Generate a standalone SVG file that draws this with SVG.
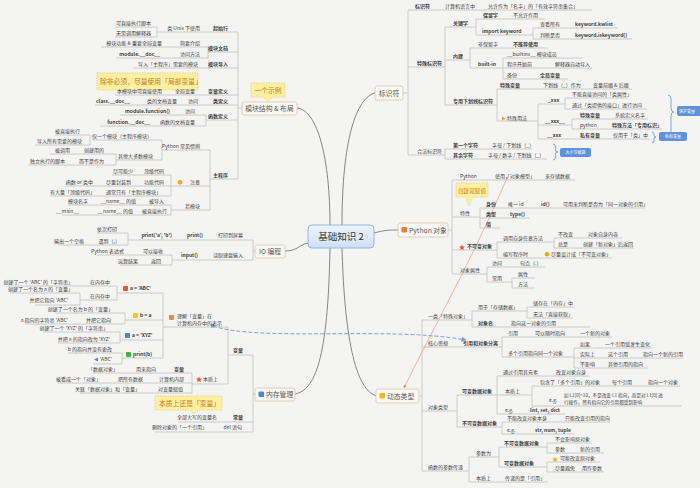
<svg xmlns="http://www.w3.org/2000/svg" width="700" height="488" viewBox="0 0 700 488">
<defs>
<style>
text{font-family:"Noto Sans CJK SC","Noto Sans",sans-serif;font-size:5px;fill:#3f3f3f}
.b{font-weight:bold}
.e{text-anchor:end}
.m{text-anchor:middle}
.ln{stroke:#c2c2c2;stroke-width:0.8;fill:none}
.main{stroke:#858585;stroke-width:1;fill:none}
.nd{fill:#fbf8f1;stroke:#d8c8ae;stroke-width:0.8}
.nt{font-size:6.8px;fill:#5a5a5a}
.cl{fill:#fff0a0;stroke:#e2c766;stroke-width:0.6;stroke-dasharray:1.5 1}
.ct{font-size:6.8px;fill:#c87a1c}
.tg{fill:#5d92dc}
.tt{fill:#ffffff;font-size:4px}
.br{stroke:#6a9fe2;stroke-width:0.9;fill:none}
</style>
<linearGradient id="gc" x1="0" y1="0" x2="0" y2="1"><stop offset="0" stop-color="#eef5fd"/><stop offset="1" stop-color="#cddff5"/></linearGradient>
<marker id="ao" viewBox="0 0 10 10" refX="9" refY="5" markerWidth="5" markerHeight="5" orient="auto"><path d="M0 0L10 5L0 10z" fill="#ec8a68"/></marker>
<marker id="ab" viewBox="0 0 10 10" refX="9" refY="5" markerWidth="5" markerHeight="5" orient="auto"><path d="M0 0L10 5L0 10z" fill="#6f9ad6"/></marker>
</defs>
<rect width="700" height="488" fill="#f4f4f2"/>

<g id="connectors">
<path class="main" d="M297 108C318 110 330 160 330 225M375 93C356 98 342 140 342 225M285 251C298 251 300 244 308 243M374 233C385 230 390 230 398 230M295 394C315 390 328 360 330 248M342 248C344 320 352 390 377 396"/>
<path class="ln" d="M403 93H408M408 10V155M408 10H592M408 67H445M408 155H445
M445 27V105M445 27H476M476 19V35M476 19H545M476 35H533M533 28V39M533 28H618M533 39H632
M445 60H470M470 48V68M470 48H548M470 68H503M503 58V79M503 58H582M503 68H592M503 79H568
M445 105H497M497 89V121M497 89H632M497 121H538M538 104V139M538 104H565M565 98V109M565 98H628M565 109H647
M538 125H572M572 119V129M572 119H648M572 129H662M538 139H650
M445 149V159M445 149H532M445 159H547"/>
<path class="ln" d="M448 230H452M452 180V274M452 180H575M452 217H480M480 208V228M480 208H645M480 218H530M480 228H500
M452 250H497M497 242V258M497 242H554M554 238V248M554 238H622M554 248H634M497 258H612
M452 274H487M487 267V282M487 267H545M487 282H512M512 278V288M512 278H535M512 288H535"/>
<path class="ln" d="M419 396H422M422 320V471M422 320H472M472 311V327M472 311H527M527 307V318M527 307H575M527 318H573M472 327H590
M422 347H502M502 337V357M502 337H612M502 357H574M574 348V368M574 348H652M574 358H683M574 368H648
M422 411H457M457 395V427M457 395H497M497 376V414M497 376H590M497 395H532M532 386V406M532 386H680M532 406H682M497 414H565
M457 427H502M502 422V434M502 422H610M502 434H575
M422 471H469M469 457V482M469 457H499M499 447V467M499 447H547M547 443V453M547 443H592M547 453H604M499 467H547M547 462V472M547 462H600M547 472H604M469 482H548"/>
<path class="ln" d="M242 108H238M238 32V179M157 32H238M157 27V37M115 27H157M115 37H157
M208 52H238M208 47V58M101 47H208M116 58H208M133 68H238M115 95H238M95 105H238
M206 120H238M206 115V126M120 115H206M100 126H206
M210 179H238M210 150V210M162 150H210M162 140V160M92 140H162M90 135V145M55 135H90M35 145H90M116 160H162M116 154V165M50 154H116M28 165H116
M171 186H210M171 175V196M112 175H171M65 186H171M50 196H171M171 210H210M171 205V215M68 205H171M62 215H171"/>
<path class="ln" d="M255 251H253M253 240V260M128 240H253M128 233V245M97 233H128M58 245H128M172 260H253M172 255V265M97 255H172M120 265H172"/>
<path class="ln" d="M255 394H253M253 355V432M228 355H253M228 327V384M163 327H228M163 293V358
M117 293H163M117 286V300M8 286H117M80 300H117M80 293V305M10 293H80M35 305H80
M125 320H163M125 313V324M55 313H125M25 324H125M120 340H163M120 332V343M43 332H120M58 343H120
M122 358H163M122 353V364M68 353H122M93 364H122
M192 384H228M192 373V393M93 373H192M58 383H192M80 393H192M178 422H253M155 432H253"/>
<path d="M507 178C472 260 432 330 404 388" stroke="#ee9a7c" stroke-width="0.7" fill="none" marker-end="url(#ao)"/>
<circle cx="507" cy="178" r="1.2" fill="#ee9a7c"/>
<path d="M213 326C260 342 390 326 466 340" stroke="#7ba3d8" stroke-width="1" stroke-dasharray="4 2" fill="none" marker-end="url(#ab)"/>
<rect x="211" y="324" width="3.5" height="3.5" fill="#7ba3d8"/>
<path class="br" d="M668 95q3 0 3 4V108q0 4 3 4q-3 0-3 4V136q0 4-3 4M652 132q2 0 2 2V135q0 2 2 2q-2 0-2 2V141q0 2-2 2M553 144q2.5 0 2.5 3V150q0 2 2.5 2q-2.5 0-2.5 2V157q0 3-2.5 3"/>
</g>

<g id="center"><rect x="308" y="225" width="66" height="23" rx="4" fill="url(#gc)" stroke="#8db0e0" stroke-width="0.9"/><text x="341" y="240" class="m" style="font-size:9.5px;fill:#333">基础知识 2</text></g>

<g id="n-biaoshifu">
<rect class="nd" x="375" y="86" width="28" height="14" rx="2"/><text class="nt m" x="389" y="95.5">标识符</text>
<text class="b" x="415" y="8">标识符</text><text x="445" y="8">计算机语言中</text><text x="488" y="8">允许作为「名字」的「有效字符串集合」</text>
<text class="b" x="417" y="65">特殊标识符</text>
<text class="b" x="453" y="25">关键字</text>
<text class="b" x="483" y="17">保留字</text><text x="513" y="17">不允许作用</text>
<text class="b" x="482" y="33">import keyword</text>
<text x="540" y="26">查看所有</text><text class="b" x="575" y="26">keyword.kwlist</text>
<text x="540" y="37">判断是否</text><text class="b" x="575" y="37">keyword.iskeyword()</text>
<text class="b" x="453" y="58">内建</text>
<text x="478" y="46">非保留字</text><text class="b" x="513" y="46">不推荐使用</text>
<text class="b" x="478" y="66">built-in</text>
<text x="507" y="56">__builtins__ 模块成员</text>
<text x="507" y="66">程序开始前</text><text x="555" y="66">解释器自动导入</text>
<text x="507" y="77">备份</text><text class="b" x="540" y="77">全局变量</text>
<text class="b" x="453" y="103">专用下划线标识符</text>
<text class="b" x="500" y="87">特殊变量</text><text x="543" y="87">下划线（_）作为</text><text x="593" y="87">变量前缀 &amp; 后缀</text>
<path d="M502 116.5L505.5 118.5L502 120.5z" fill="#f0a020"/><text x="507" y="120">特殊用法</text>
<text class="b" x="548" y="102">_xxx</text>
<text x="572" y="96">不能直接访问的「类属性」</text>
<text x="572" y="107">通过「类提供的接口」进行访问</text>
<text class="b" x="545" y="123">__xxx__</text>
<text class="b" x="580" y="117">特殊变量</text><text x="615" y="117">系统定义名字</text>
<text x="580" y="127">python</text><text class="b" x="612" y="127">特殊方法「专用标识」</text>
<text class="b" x="547" y="137">__xxx</text><text class="b" x="580" y="137">私有变量</text><text x="613" y="137">仅用于「类」中</text>
<text x="417" y="153">合法标识符</text>
<text class="b" x="453" y="147">第一个字符</text><text x="492" y="147">字母 / 下划线（_）</text>
<text class="b" x="453" y="157">其余字符</text><text x="488" y="157">字母 / 数字 / 下划线（_）</text>
<rect class="tg" x="677" y="106" width="26" height="10" rx="2"/><text class="tt" x="679" y="112.5">保护变量</text>
<rect class="tg" x="659" y="132" width="28" height="9" rx="2"/><text class="tt m" x="673" y="138">私有变量</text>
<rect class="tg" x="560" y="148" width="31" height="9" rx="2"/><text class="tt m" x="575.5" y="154">大小写敏感</text>
</g>

<g id="n-pyobj">
<rect class="nd" x="398" y="223" width="50" height="14" rx="2"/><rect x="401.5" y="227" width="5.5" height="5.5" rx="1" fill="#ef7a45"/><text class="nt" x="409" y="232.5">Python 对象</text>
<text x="460" y="178">Python</text><text x="495" y="178">使用「对象模型」</text><text x="545" y="178">来存储数据</text>
<path class="cl" d="M456 183H488V197H473L469 206L466 197H456Z"/><text class="ct" x="458" y="192.5" style="font-size:5.6px">创建就赋值</text>
<text x="460" y="215">特性</text>
<text class="b" x="486" y="206">身份</text><text x="508" y="206">唯一 id</text><text class="b" x="541" y="206">id()</text><text x="563" y="206">可用来判断是否为「同一对象的引用」</text>
<text class="b" x="486" y="216">类型</text><text class="b" x="510" y="216">type()</text>
<text class="b" x="486" y="226">值</text>
<path d="M462 244.5l0.9 1.9 2 .2-1.5 1.4.5 2-1.9-1-1.9 1 .5-2-1.5-1.4 2-.2z" fill="#e8553e"/><text class="b" x="467" y="248">不可变对象</text>
<text x="503" y="240">调用自身任意方法</text>
<text x="558" y="236">不改变</text><text x="588" y="236">对象自身内容</text>
<text x="558" y="246">总是</text><text x="583" y="246">创建「新对象」后返回</text>
<text x="503" y="256">编写程序时</text><circle cx="547" cy="254.3" r="2.3" fill="#f4a51c"/><text x="551" y="256">尽量设计成「不可变对象」</text>
<text x="460" y="272">对象属性</text>
<text x="492" y="265">访问</text><text x="520" y="265">句点（.）</text>
<text x="492" y="280">常用</text><text x="518" y="276">属性</text><text x="518" y="286">方法</text>
</g>

<g id="n-dynamic">
<rect class="nd" x="376" y="389" width="43" height="14" rx="2"/><rect x="379.5" y="393" width="5.5" height="5.5" rx="1" fill="#f2b61e"/><text class="nt" x="387" y="398.5">动态类型</text>
<text x="428" y="318">一类「特殊对象」</text>
<text x="478" y="309">用于「存储数据」</text>
<text x="533" y="305">储存在「内存」中</text><text x="533" y="316">无法「直接获取」</text>
<text class="b" x="478" y="325">对象名</text><text x="511" y="325">指向这一对象的引用</text>
<text x="428" y="345">核心思想</text><text class="b" x="463" y="345">引用和对象分离</text>
<text x="508" y="335">引用</text><text x="535" y="335">可以随时指向</text><text x="580" y="335">一个新的对象</text>
<text x="508" y="355">多个引用指向同一个对象</text>
<text x="580" y="346">如果</text><text x="605" y="346">一个引用值发生变化</text>
<text x="580" y="356">实际上</text><text x="608" y="356">这个引用</text><text x="643" y="356">指向一个新的引用</text>
<text x="580" y="366">不影响</text><text x="608" y="366">其他引用的指向</text>
<text x="428" y="409">对象类型</text>
<text class="b" x="462" y="393">可变数据对象</text>
<text x="503" y="374">通过引用其元素</text><text x="556" y="374">改变对象自身</text>
<text x="505" y="393">本质上</text>
<text x="540" y="384">包含了「多个引用」的对象</text><text x="612" y="384">每个引用</text><text x="648" y="384">指向一个对象</text>
<text x="549" y="402">e.g.</text><text x="564" y="397" style="font-size:4.6px">如 L1[0]=10，不是改变 L1 指向，而是对 L1[0] 进</text><text x="564" y="404" style="font-size:4.6px">行操作，所有指向它的引用都受到影响</text>
<text x="505" y="412">e.g.</text><text class="b" x="530" y="412">list, set, dict</text>
<text class="b" x="462" y="425">不可变数据对象</text>
<text x="507" y="420">不能改变对象本身</text><text x="565" y="420">只能改变引用的指向</text>
<text x="507" y="432">e.g.</text><text class="b" x="535" y="432">str, num, tuple</text>
<text x="428" y="469">函数的参数传递</text>
<text x="476" y="455">参数为</text>
<text class="b" x="504" y="445">不可变数据对象</text>
<text x="555" y="441">不会影响原对象</text>
<text x="555" y="451">参数</text><text x="580" y="451">新的引用</text>
<text class="b" x="504" y="465">可变数据对象</text>
<path d="M555 456.5l0.9 1.9 2 .2-1.5 1.4.5 2-1.9-1-1.9 1 .5-2-1.5-1.4 2-.2z" fill="#f2b61e"/><text x="560" y="460">可能改变原对象</text>
<text x="555" y="470">尽量避免</text><text x="582" y="470">用作参数</text>
<text x="476" y="480">本质上</text><text x="505" y="480">传递的是「引用」</text>
</g>

<g id="n-module">
<rect class="nd" x="242" y="102" width="55" height="13" rx="2"/><text class="nt m" x="269.5" y="110.8">模块结构 &amp; 布局</text>
<path class="cl" d="M251 83H285V97H273L268 101L263 97H251Z"/><text class="ct m" x="268" y="92.5">一个示例</text>
<text class="b e" x="228" y="30">起始行</text><text class="e" x="200" y="30">类 Unix 下使用</text>
<text class="e" x="151" y="25">可直接执行脚本</text><text class="e" x="151" y="35">无需调用解释器</text>
<text class="b e" x="228" y="50">模块文档</text>
<text class="e" x="200" y="45">简要介绍</text><text class="e" x="162" y="45">模块功能 &amp; 重要全局变量</text>
<text class="e" x="200" y="56">访问方法</text><text class="b e" x="160" y="56">module.__doc__</text>
<text class="b e" x="228" y="66">模块导入</text><text class="e" x="198" y="66">导入「主程序」需要的模块</text>
<rect class="cl" x="97" y="73" width="101" height="17"/><text class="ct" x="100" y="84">除非必须，尽量使用「局部变量」</text>
<text class="b e" x="228" y="93">变量定义</text><text class="e" x="195" y="93">全局变量</text><text class="e" x="162" y="93">本模块中可直接使用</text>
<text class="b e" x="228" y="103">类定义</text><text class="e" x="198" y="103">访问</text><text class="e" x="177" y="103">类的文档变量</text><text class="b e" x="130" y="103">class.__doc__</text>
<text class="b e" x="228" y="118">函数定义</text>
<text class="e" x="195" y="113">访问</text><text class="b e" x="170" y="113">module.function()</text>
<text class="e" x="195" y="124">函数的文档变量</text><text class="b e" x="150" y="124">function.__doc__</text>
<text class="b e" x="228" y="177">主程序</text>
<text class="e" x="200" y="148">Python 常见惯例</text>
<text class="e" x="152" y="138">仅一个模块（主程序模块）</text>
<text class="e" x="80" y="133">被直接执行</text><text class="e" x="82" y="143">导入所有需要的模块</text>
<text class="e" x="153" y="158">其他大多数模块</text>
<text class="e" x="104" y="152">创建用的</text><text class="e" x="70" y="152">被调用</text>
<text class="e" x="104" y="163">而不是作为</text><text class="e" x="65" y="163">独立执行的脚本</text>
<circle cx="180" cy="182.3" r="2.4" fill="#f4a51c"/><text class="e" x="200" y="184">注意</text>
<text class="e" x="164" y="173">顶级代码</text><text class="e" x="133" y="173">尽可能少</text>
<text class="e" x="164" y="184">功能代码</text><text class="e" x="131" y="184">尽量封装到</text><text class="e" x="93" y="184">函数 or 类中</text>
<text class="e" x="161" y="194">通常只有「主程序模块」</text><text class="e" x="95" y="194">有大量「顶级代码」</text>
<text class="e" x="200" y="208">若模块</text>
<text class="e" x="164" y="203">被导入</text><text class="e" x="136" y="203">__name__ 的值</text><text class="e" x="88" y="203">模块名字</text>
<text class="e" x="167" y="213">被直接执行</text><text class="e" x="133" y="213">__name__ 的值</text><text class="e" x="79" y="213">__main__</text>
</g>

<g id="n-io">
<rect class="nd" x="255" y="245" width="30" height="13" rx="2"/><text class="nt m" x="270" y="253.8">IO 编程</text>
<text class="e" x="243" y="237">打印到屏幕</text><text class="b e" x="203" y="237">print()</text><text class="b e" x="172" y="237">print('a', 'b')</text>
<text class="e" x="117" y="231">依次打印</text><text class="e" x="120" y="243">遇到（,）</text><text class="e" x="84" y="243">输出一个空格</text>
<text class="e" x="243" y="257">读取键盘输入</text><text class="b e" x="198" y="257">input()</text>
<text class="e" x="163" y="253">可以接收</text><text class="e" x="124" y="253">Python 表达式</text>
<text class="e" x="161" y="263">返回</text><text class="e" x="138" y="263">运算结果</text>
</g>

<g id="n-memory">
<rect class="nd" x="255" y="388" width="40" height="13" rx="2"/><rect x="258.5" y="391.5" width="5.5" height="5.5" rx="1" fill="#4a86d8"/><text class="nt" x="266" y="397">内存管理</text>
<text class="b e" x="243" y="352">变量</text>
<rect x="169" y="315" width="5" height="5" rx="1" fill="#f08a3c"/><text x="177" y="318">理解「变量」在</text><text x="177" y="325">计算机内存中的表示</text>
<rect x="123" y="286" width="5" height="5" rx="1" fill="#e8553e"/><text class="b" x="130" y="290">a = 'ABC'</text>
<text class="e" x="110" y="284">在内存中</text><text class="e" x="73" y="284">创建了一个 'ABC' 的「字符串」</text>
<text class="e" x="110" y="298">在内存中</text>
<text class="e" x="73" y="291">创建了一个名为 a 的「变量」</text><text class="e" x="68" y="302">并把它指向 'ABC'</text>
<rect x="133" y="313" width="5" height="5" rx="1" fill="#f5c518"/><text class="b" x="140" y="317">b = a</text>
<text class="e" x="113" y="311">创建了一个名为 b 的「变量」</text>
<text class="e" x="111" y="322">并把它指向</text><text class="e" x="68" y="322">a 指向的字符串 'ABC'</text>
<rect x="125" y="333" width="5" height="5" rx="1" fill="#4a86d8"/><text class="b" x="132" y="337">a = 'XYZ'</text>
<text class="e" x="108" y="330">创建了一个 'XYZ' 的「字符串」</text><text class="e" x="110" y="341">并把 a 的指向改为 'XYZ'</text>
<rect x="126" y="352" width="5" height="5" rx="1" fill="#38b54a"/><text class="b" x="133" y="356">print(b)</text>
<text class="e" x="112" y="351">b 的指向并没有更改</text>
<path d="M94 359.5L98 357.5V361.5z" fill="#4a86d8"/><text class="e" x="112" y="361">'ABC'</text>
<path d="M199 376.5l0.9 1.9 2 .2-1.5 1.4.5 2-1.9-1-1.9 1 .5-2-1.5-1.4 2-.2z" fill="#e8553e"/><text x="203" y="381">本质上</text>
<text class="b e" x="184" y="371">变量</text><text class="e" x="156" y="371">用来指向</text><text class="e" x="118" y="371">「数据对象」</text>
<text class="e" x="184" y="381">计算机内部</text><text class="e" x="143" y="381">把所有数据</text><text class="e" x="101" y="381">被看成一个「对象」</text>
<text class="e" x="183" y="391">对变量赋值</text><text class="e" x="140" y="391">关联「数据对象」和「变量」</text>
<path class="cl" d="M155 396H222V410H198L194 414L190 410H155Z"/><text class="ct" x="159" y="405.8">本质上还是「变量」</text>
<text class="b e" x="243" y="419">常量</text><text class="e" x="217" y="419">全部大写的变量名</text>
<text class="e" x="242" y="429">del 语句</text><text class="e" x="207" y="429">删除对象的「一个引用」</text>
</g>
</svg>
